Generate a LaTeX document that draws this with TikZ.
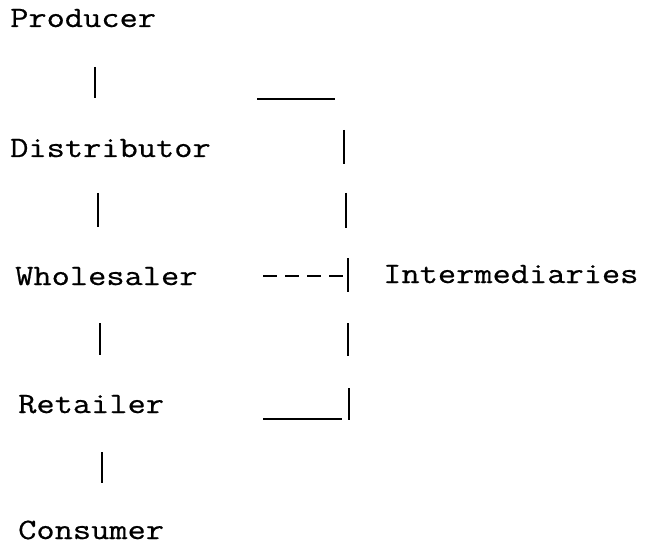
\documentclass[tikz,border=0pt]{standalone}
\usepackage{fontspec}
\newfontfamily\tw{Latin Modern Mono}[FakeStretch=1.2,FakeBold=0.6]
\begin{document}
\begin{tikzpicture}[x=1pt,y=-1pt,
  lbl/.style={anchor=base west,inner sep=0pt,text depth=0pt,font=\tw\fontsize{29.5}{36}\selectfont},
  bar/.style={line width=1.8pt},
  dashbar/.style={line width=2pt,dash pattern=on 13.5pt off 8.5pt}]
\useasboundingbox (0,0) rectangle (647,545);
% labels
\node[lbl] (prod) at (10,27) {Producer};
\node[lbl] (dist) at (10,157) {Distributor};
\node[lbl] (whol) at (15,285) {Wholesaler};
\node[lbl] (ret)  at (18,413) {Retailer};
\node[lbl] (cons) at (18,539) {Consumer};
\node[lbl] (inter) at (383,283) {Intermediaries};
% chain bars
\coordinate (a1) at (95,67);  \coordinate (a2) at (95,98);
\coordinate (b1) at (98,193); \coordinate (b2) at (98,227);
\coordinate (c1) at (100,323); \coordinate (c2) at (100,355);
\coordinate (d1) at (102,452); \coordinate (d2) at (102,483);
\draw[bar] (a1) -- (a2);
\draw[bar] (b1) -- (b2);
\draw[bar] (c1) -- (c2);
\draw[bar] (d1) -- (d2);
% bracket
\coordinate (t1) at (257,99);  \coordinate (t2) at (335,99);
\coordinate (r1) at (344,130); \coordinate (r2) at (344,164);
\coordinate (s1) at (346,193); \coordinate (s2) at (346,228);
\coordinate (m1) at (348,258); \coordinate (m2) at (348,292);
\coordinate (u1) at (348,323); \coordinate (u2) at (348,356);
\coordinate (v1) at (349,388); \coordinate (v2) at (349,420);
\coordinate (w1) at (263,419); \coordinate (w2) at (342,419);
\coordinate (h1) at (263,276); \coordinate (h2) at (343,276);
\draw[bar] (t1) -- (t2);
\draw[bar] (r1) -- (r2);
\draw[bar] (s1) -- (s2);
\draw[bar] (m1) -- (m2);
\draw[bar] (u1) -- (u2);
\draw[bar] (v1) -- (v2);
\draw[bar] (w1) -- (w2);
\draw[dashbar] (h1) -- (h2);
\end{tikzpicture}
\end{document}
